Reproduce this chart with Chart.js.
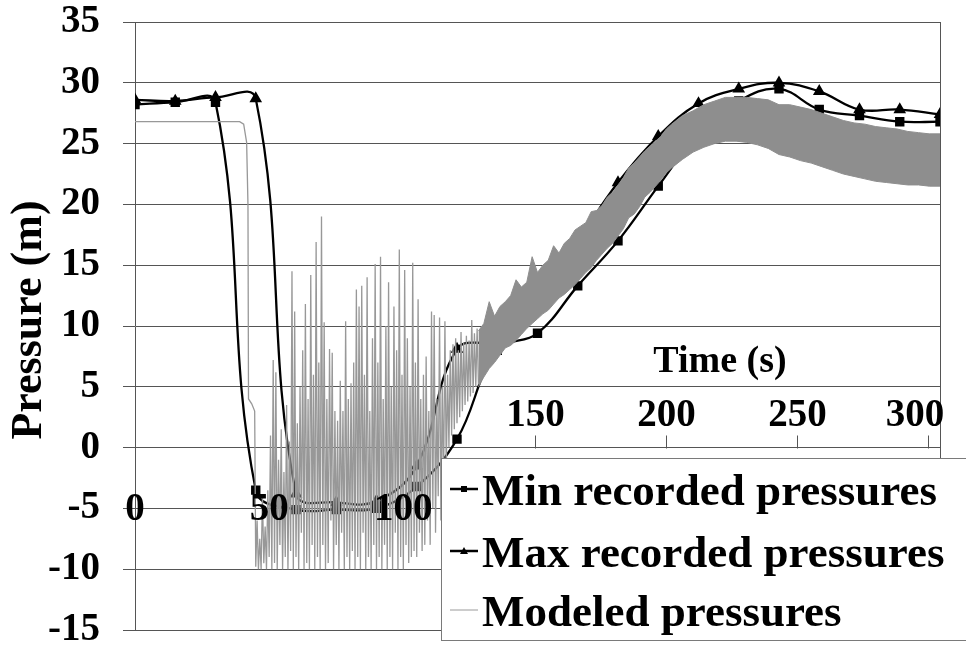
<!DOCTYPE html>
<html>
<head>
<meta charset="utf-8">
<script src="https://cdn.jsdelivr.net/npm/chart.js@4.4.0/dist/chart.umd.min.js"></script>
<style>
  html, body { margin: 0; padding: 0; background: #fff; }
  #chart { display: block; }
</style>
</head>
<body>
<canvas id="chart" width="966" height="649"></canvas>
<script>
// recorded pressures, one marker every 15 s
const recordedTimes = [0, 15, 30, 45, 60, 75, 90, 105, 120, 135, 150, 165, 180, 195, 210, 225, 240, 255, 270, 285, 300];
const minRecorded = [28.2, 28.4, 28.4, -3.5, -5.1, -5.1, -5.0, -3.2, 0.7, 8.0, 9.4, 13.3, 17.0, 21.5, 25.8, 28.5, 29.5, 27.8, 27.3, 26.8, 26.8];
const maxRecorded = [28.6, 28.5, 28.8, 28.7, -3.8, -4.5, -4.4, -1.5, 8.1, 8.9, 12.3, 17.0, 21.8, 25.6, 28.3, 29.5, 30.0, 29.3, 27.8, 27.8, 27.4];

// modeled pressures: steady part and the drop
const modeledHeadTimes = [0, 39, 40.5, 41.6, 42.1, 42.3, 43.5, 44.6];
const modeledHeadValues = [26.8, 26.8, 26.6, 25.1, 20, 4, 3.6, 3.0];

// modeled pressures: cavitation spikes, 45 s to 128 s every 0.5 s
const spikeStart = 45;
const spikeStep = 0.5;
const modeledSpikes = [
  -9.8, -6, -10, -7.5, -10, -4, -9.5, -6.5, -10, -3.5,
  -9, 1, -10, 7.2, -9.5, 6.2, -10, -1, -8, 1.5,
  -10, -2, -9, 3.5, -10, 0.5, -8.5, 14.5, -10, 11.2,
  -9, 2, -10, 5, -7, 8, -10, 11.8, -9.5, 4,
  -10, 14.2, -8, 6, -10, 16.9, -9, 7, -10, 19.0,
  -8, 10.3, -10, 4, -9.5, 8.1, -6, 7.8, -10, 3,
  -8, 2.2, -10, 5.5, -7, 3, -10, 10.4, -9, 4,
  -10, 5.3, -8.5, 7, -10, 13.0, -9, 11.6, -10, 13.3,
  -7, 6, -10, 14, -9, 3, -10, 9, -8, 15.1,
  -10, 7, -9, 15.7, -10, 4, -8, 10, -10, 13.6,
  -9, 5, -10, 11.6, -7, 8, -10, 16.3, -9, 6,
  -10, 14.6, -8, 9, -9.5, 5, -9, 15.2, -8.5, 7,
  -9, 12.2, -7, 4, -8.5, 6, -8, 7.5, -6, 3,
  -8, 11.2, -5, 10.9, -7, 4, -4, 10.7, -6, 5,
  -3, 10.4, -2, 6, 0, 8, 1, 8.5, 1.5, 9,
  2, 8, 2.5, 9.5, 3, 8.6, 3.5, 9.2, 3.8, 8.8,
  4.2, 10.5, 4.5, 9.4, 5, 9.8, 5.2
];

// modeled pressures: dense oscillation band, upper and lower edge
const bandTimes = [128, 130, 132, 134, 136, 138, 140, 142, 144, 146, 148, 150,
  152, 154, 156, 158, 160, 162, 164, 166, 168, 170, 172, 174, 176, 178, 180, 182, 184, 186, 188, 190,
  192, 194, 196, 198, 200, 204, 208, 212, 216, 220, 224, 228, 232, 236, 240, 244, 248, 252, 256, 260,
  264, 268, 272, 276, 280, 284, 288, 292, 296, 300];
const bandHigh = [9.6, 10.2, 12.0, 10.8, 11.6, 12.0, 12.5, 13.8, 13.2, 13.6, 15.7, 14.4,
  15.0, 15.4, 16.6, 16.0, 16.8, 17.2, 17.9, 18.2, 18.5, 19.4, 19.5, 19.9, 20.6, 21.0, 21.6, 22.2, 23.0, 23.4, 23.9, 24.4,
  24.8, 25.2, 25.6, 26.2, 26.6, 27.3, 27.7, 28.2, 28.5, 28.8, 28.8, 28.8, 28.7, 28.6, 28.2, 28.2, 28.0, 27.8, 27.5, 27.2,
  26.9, 26.7, 26.6, 26.4, 26.3, 26.2, 26.0, 25.9, 25.8, 25.8];
const bandLow = [5.0, 5.8, 6.5, 7.0, 7.6, 8.2, 8.4, 8.8, 9.3, 9.8, 10.2, 10.6,
  11.0, 11.3, 11.8, 12.3, 12.6, 13.0, 13.4, 13.9, 14.4, 14.8, 15.4, 15.9, 16.4, 16.8, 17.4, 18.0, 18.9, 19.2, 19.8, 20.6,
  21.0, 21.5, 22.0, 22.6, 23.0, 23.7, 24.3, 24.7, 25.0, 25.2, 25.2, 25.1, 24.9, 24.6, 24.1, 23.9, 23.6, 23.4, 23.1, 22.8,
  22.5, 22.3, 22.1, 21.9, 21.8, 21.7, 21.6, 21.6, 21.5, 21.5];

const yTicks = [-15, -10, -5, 0, 5, 10, 15, 20, 25, 30, 35];
const lowerTickLabels = [0, 50, 100];
const upperTickLabels = [150, 200, 250, 300];
const seriesNames = ['Min recorded pressures', 'Max recorded pressures', 'Modeled pressures'];

const SERIF = "'Liberation Serif', 'Times New Roman', serif";
const GRID = '#555555';
const MODEL_GRAY = '#8e8e8e';

const pairs = (xs, ys) => xs.map((t, i) => ({ x: t, y: ys[i] }));

const modeledLine = pairs(modeledHeadTimes, modeledHeadValues)
  .concat(modeledSpikes.map((v, i) => ({ x: spikeStart + i * spikeStep, y: v })));

const decorPlugin = {
  id: 'decor',
  afterDatasetsDraw(chart) {
    const { ctx, chartArea: a, scales: { x, y } } = chart;
    ctx.save();

    // right side of the plot frame
    ctx.strokeStyle = GRID;
    ctx.lineWidth = 1;
    const rx = Math.round(a.right) + 0.5;
    ctx.beginPath();
    ctx.moveTo(rx, a.top);
    ctx.lineTo(rx, a.bottom);
    ctx.stroke();

    // x labels sitting on the -5 line
    ctx.fillStyle = '#000';
    ctx.font = 'bold 39px ' + SERIF;
    ctx.textAlign = 'center';
    ctx.textBaseline = 'alphabetic';
    const lowY = y.getPixelForValue(-5) + 12;
    lowerTickLabels.forEach(v => ctx.fillText(String(v), x.getPixelForValue(v), lowY));

    // upper row of x labels with their small tick marks
    const zeroY = Math.round(y.getPixelForValue(0)) + 0.5;
    const upperX = v => a.left + 7 + v * (a.width - 19) / 300;
    upperTickLabels.forEach(v => {
      const px = Math.round(upperX(v)) + 0.5;
      ctx.beginPath();
      ctx.moveTo(px, zeroY - 13);
      ctx.lineTo(px, zeroY);
      ctx.stroke();
      ctx.fillText(String(v), Math.min(px, a.right - 25), zeroY - 23);
    });

    // axis titles
    ctx.font = 'bold 38px ' + SERIF;
    ctx.fillText('Time (s)', a.left + 585, y.getPixelForValue(5) - 15);

    ctx.save();
    ctx.translate(30, 320);
    ctx.rotate(-Math.PI / 2);
    ctx.font = 'bold 44px ' + SERIF;
    ctx.textBaseline = 'middle';
    ctx.fillText('Pressure (m)', 0, 0);
    ctx.restore();

    // legend box
    const lx = 441.5, ly = 458.5;
    ctx.fillStyle = '#fff';
    ctx.strokeStyle = '#7a7a7a';
    ctx.fillRect(lx, ly, 540, 182);
    ctx.strokeRect(lx, ly, 540, 182);

    const rows = [505, 567, 626];
    rows.forEach((base, i) => {
      const sy = base - 16;
      ctx.beginPath();
      ctx.moveTo(450, sy);
      ctx.lineTo(478, sy);
      if (i < 2) {
        ctx.strokeStyle = '#000';
        ctx.lineWidth = 2.5;
      } else {
        ctx.strokeStyle = '#9a9a9a';
        ctx.lineWidth = 1;
      }
      ctx.stroke();
      ctx.fillStyle = '#000';
      if (i === 0) {
        ctx.fillRect(461, sy - 3, 6, 6);
      } else if (i === 1) {
        ctx.beginPath();
        ctx.moveTo(464, sy - 4);
        ctx.lineTo(468, sy + 3);
        ctx.lineTo(460, sy + 3);
        ctx.closePath();
        ctx.fill();
      }
      ctx.font = 'bold 45px ' + SERIF;
      ctx.textAlign = 'left';
      ctx.fillText(seriesNames[i], 482, base);
    });

    ctx.restore();
  }
};

new Chart(document.getElementById('chart'), {
  type: 'line',
  data: {
    datasets: [
      {
        label: 'Modeled band top',
        data: pairs(bandTimes, bandHigh),
        borderColor: MODEL_GRAY,
        borderWidth: 1,
        pointRadius: 0,
        fill: false,
        tension: 0
      },
      {
        label: seriesNames[2],
        data: pairs(bandTimes, bandLow),
        borderColor: MODEL_GRAY,
        backgroundColor: MODEL_GRAY,
        borderWidth: 1,
        pointRadius: 0,
        fill: '-1',
        tension: 0
      },
      {
        label: 'Modeled spikes',
        data: modeledLine,
        borderColor: '#989898',
        borderWidth: 1.3,
        pointRadius: 0,
        fill: false,
        tension: 0
      },
      {
        label: seriesNames[1],
        data: pairs(recordedTimes, maxRecorded),
        borderColor: '#000',
        backgroundColor: '#000',
        borderWidth: 2.3,
        pointStyle: 'triangle',
        pointRadius: 5,
        fill: false,
        tension: 0.4
      },
      {
        label: seriesNames[0],
        data: pairs(recordedTimes, minRecorded),
        borderColor: '#000',
        backgroundColor: '#000',
        borderWidth: 2.3,
        pointStyle: 'rect',
        pointRadius: 5,
        fill: false,
        tension: 0.4
      }
    ]
  },
  options: {
    responsive: false,
    devicePixelRatio: 1,
    animation: false,
    layout: { padding: { left: 0, top: 22, right: 26, bottom: 19 } },
    plugins: {
      legend: { display: false },
      tooltip: { enabled: false },
      filler: { propagate: false }
    },
    scales: {
      x: {
        type: 'linear',
        min: 0,
        max: 300,
        display: false
      },
      y: {
        type: 'linear',
        min: -15,
        max: 35,
        afterBuildTicks: s => { s.ticks = yTicks.map(v => ({ value: v })); },
        afterFit: s => {
          s.width = 135;
          s.paddingTop = 0;
          s.paddingBottom = 0;
        },
        ticks: {
          color: '#000',
          padding: 23,
          font: { family: SERIF, size: 39, weight: 'bold' }
        },
        grid: { color: GRID, lineWidth: 1, tickLength: 12, tickColor: GRID },
        border: { display: true, color: GRID, width: 1 }
      }
    }
  },
  plugins: [decorPlugin]
});
</script>
</body>
</html>
